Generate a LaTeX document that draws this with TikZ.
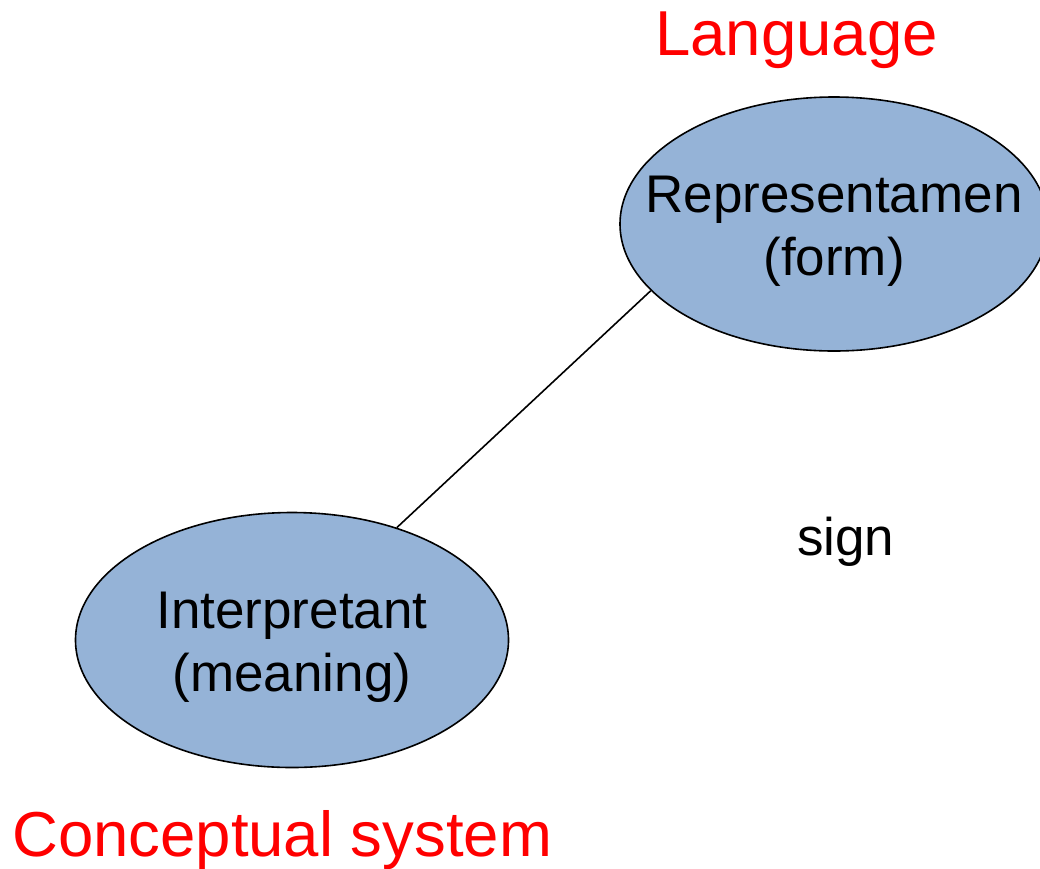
\documentclass[tikz,border=0pt]{standalone}
\usepackage{fontspec}
\setmainfont{Liberation Sans}
\usetikzlibrary{shapes.geometric}
\definecolor{blobfill}{HTML}{95B3D7}
\definecolor{titlered}{HTML}{FF0000}
% taller first line so the two-line text sits a little below the centre
\newcommand{\toplift}{\rule{0pt}{50pt}}
\begin{document}
\begin{tikzpicture}[x=1pt,y=-1pt,
  blob/.style={ellipse,draw=black,line width=1.6pt,fill=blobfill,
    inner sep=-80pt,align=center,font=\fontsize{53}{63}\selectfont},
  title/.style={inner sep=0pt,anchor=base west,text=titlered,
    font=\fontsize{63.5}{76}\selectfont},
  plain/.style={inner sep=0pt,anchor=base west,font=\fontsize{53}{63}\selectfont},
  link/.style={line width=1.6pt}]
\useasboundingbox (0,0) rectangle (1040,868);
\node[blob,minimum width=428pt,minimum height=254pt] (R) at (834,224)
  {\toplift Representamen\\(form)};
\node[blob,minimum width=433pt,minimum height=255pt] (I) at (292,640)
  {\toplift Interpretant\\(meaning)};
\draw[link] (R.200) -- (I.47);
\node[title] (lang) at (655,55) {Language};
\node[title] (conc) at (12,856) {Conceptual system};
\node[plain] (sign) at (797,555) {sign};
\end{tikzpicture}
\end{document}
